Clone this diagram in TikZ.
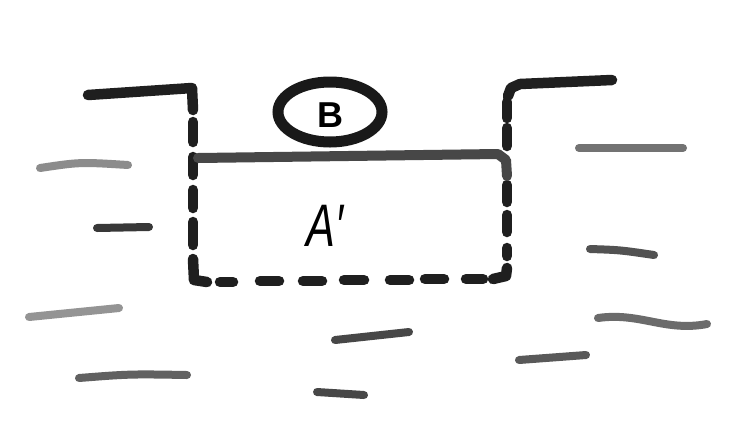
\documentclass[tikz,border=0pt]{standalone}
\usepackage{fontspec}
\setmainfont{Liberation Sans}
\begin{document}
\begin{tikzpicture}[x=1pt,y=-1pt,
  ink/.style={line width=10.5pt, line cap=round, line join=round, draw=black!88},
  topline/.style={line width=10pt, line cap=round, line join=round, draw=black!72},
  water/.style={line width=8pt, line cap=round, draw=#1},
  water/.default=black!60]
\useasboundingbox[fill=white] (0,0) rectangle (741,440);
% left bank and wall
\draw[ink] (88,95) -- (192,88) -- (193,110);
\foreach \a/\b in {122/142,157/175,190/208,222/245}
  \draw[ink] (193,\a) -- (193,\b);
\draw[ink] (193,259) -- (194,280) -- (207,282);
% bottom
\foreach \a/\b/\y in {220/233/282,260/279/281,303/322/281,344/364/280,390/409/280,425/444/279,466/483/279}
  \draw[ink] (\a,\y) -- (\b,\y);
\draw[ink] (493,279) -- (506,276) -- (507,268);
% right wall and bank
\foreach \a/\b in {248/256,215/232,185/202,128/146,102/118}
  \draw[ink] (507,\a) -- (507,\b);
\draw[ink] (508,96) -- (511,88) -- (520,84) -- (612,80);
% top of A'
\draw[topline] (198,158) -- (498,154) -- (506,160) -- (507,176);
% B
\draw[line width=11pt, draw=black!90] (330,112) ellipse [x radius=52, y radius=30];
\node (B) at (330,115) {\fontsize{36}{40}\selectfont\bfseries B};
\node[xscale=0.72] (A) at (325,226) {\fontsize{60}{64}\selectfont\itshape A′};
% water strokes
\draw[water=black!45] (40,168) .. controls (80,162) .. (128,165);
\draw[water=black!78] (97,228) -- (149,227);
\draw[water=black!42] (29,317) -- (119,308);
\draw[water=black!62] (79,378) .. controls (130,374) .. (187,375);
\draw[water=black!55] (579,148) -- (683,148);
\draw[water=black!68] (590,249) .. controls (620,250) .. (654,255);
\draw[water=black!58] (598,318) .. controls (640,312) and (665,332) .. (707,324);
\draw[water=black!72] (335,340) -- (409,332);
\draw[water=black!65] (519,360) -- (586,355);
\draw[water=black!72] (317,392) -- (364,395);
\end{tikzpicture}
\end{document}
